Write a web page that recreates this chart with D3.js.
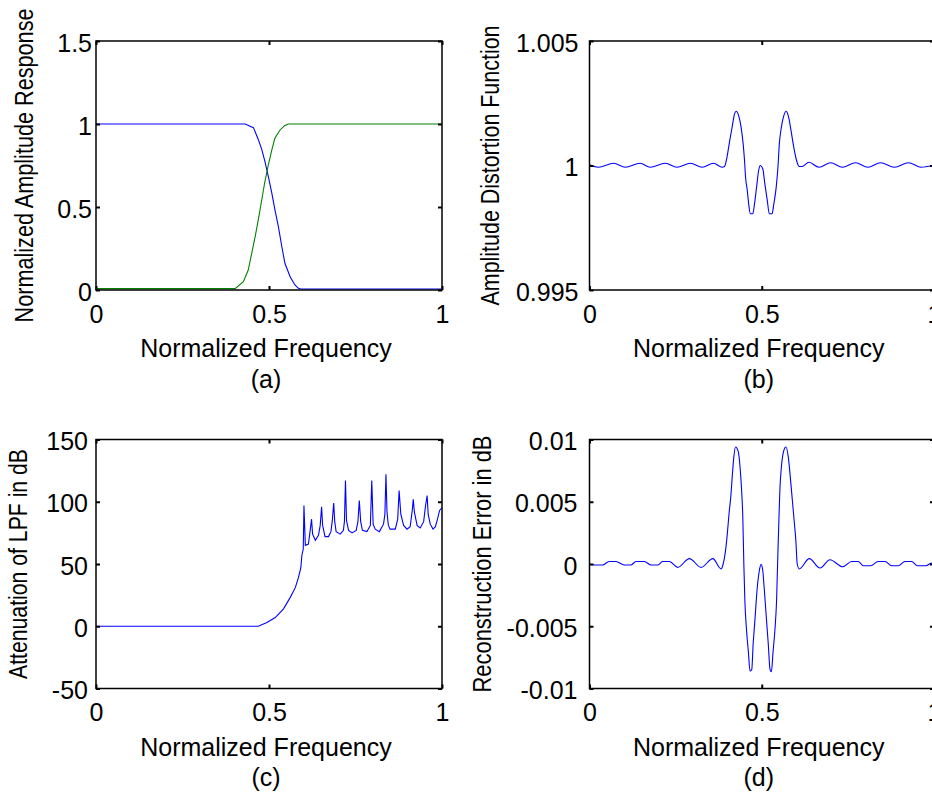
<html>
<head>
<script src="https://d3js.org/d3.v7.min.js"></script>
<style>
body { margin: 0; background: white; }
text { font-family: "Liberation Sans", Arial, sans-serif; fill: black; }
</style>
</head>
<body>
<script>
// x ticks shared by all four panels
const xTicks = [0, 0.5, 1];
const xTickLabels = ["0", "0.5", "1"];

// (a) low-pass (blue) and high-pass (green) amplitude responses
const lpfA = [[0, 1], [0.431, 1], [0.455, 0.978], [0.469, 0.907], [0.479, 0.847], [0.488, 0.776],
    [0.498, 0.685], [0.508, 0.585], [0.517, 0.484], [0.527, 0.383], [0.537, 0.262], [0.546, 0.161],
    [0.561, 0.080], [0.575, 0.030], [0.585, 0.010], [0.592, 0.006], [1, 0.006]];
const hpfA = [[0, 0.008], [0.402, 0.008], [0.426, 0.05], [0.440, 0.12], [0.450, 0.221], [0.460, 0.321],
    [0.469, 0.422], [0.479, 0.542], [0.488, 0.652], [0.498, 0.753], [0.508, 0.843], [0.517, 0.914],
    [0.532, 0.964], [0.545, 0.99], [0.556, 1.0], [1, 1.0]];
const yTicksA = [0, 0.5, 1, 1.5];
const yTickLabelsA = ["0", "0.5", "1", "1.5"];

// (b) amplitude distortion function
const distB = [[0, 1.00003], [0.026, 0.99993], [0.070, 1.00009], [0.104, 0.99993], [0.147, 1.00009],
    [0.176, 0.99993], [0.220, 1.00009], [0.254, 0.99993], [0.293, 1.00009], [0.327, 0.99993],
    [0.360, 1.00009], [0.385, 0.99993], [0.392, 0.99996], [0.399, 1.00033], [0.407, 1.001],
    [0.414, 1.00154], [0.421, 1.00207], [0.426, 1.00218], [0.433, 1.002], [0.440, 1.00154],
    [0.446, 1.00087], [0.450, 1.0002], [0.453, 0.99953], [0.458, 0.999], [0.462, 0.99846],
    [0.467, 0.99806], [0.474, 0.99806], [0.479, 0.99846], [0.485, 0.99913], [0.491, 0.9998],
    [0.496, 1.0], [0.503, 0.99987], [0.509, 0.99926], [0.516, 0.9986], [0.522, 0.99806],
    [0.530, 0.99806], [0.535, 0.99846], [0.542, 0.99913], [0.547, 0.99993], [0.551, 1.00087],
    [0.557, 1.00154], [0.564, 1.002], [0.571, 1.00218], [0.578, 1.00194], [0.585, 1.0014],
    [0.593, 1.00073], [0.601, 1.0002], [0.609, 0.99996], [0.617, 0.99996], [0.637, 1.00013],
    [0.666, 0.99993], [0.700, 1.00011], [0.734, 0.99993], [0.772, 1.00011], [0.808, 0.99993],
    [0.845, 1.00011], [0.885, 0.99993], [0.926, 1.00011], [0.963, 0.99993], [1, 1.00002]];
const yTicksB = [0.995, 1, 1.005];
const yTickLabelsB = ["0.995", "1", "1.005"];

// (c) attenuation of LPF in dB
const attC = [[0, 0], [0.469, 0], [0.494, 3], [0.518, 7], [0.542, 14], [0.561, 23], [0.576, 31],
    [0.585, 39], [0.592, 47], [0.595, 57], [0.599, 62], [0.601, 97], [0.605, 65], [0.614, 66],
    [0.619, 77], [0.623, 86], [0.626, 74], [0.634, 69], [0.643, 73], [0.648, 81], [0.652, 96],
    [0.655, 81], [0.662, 72], [0.672, 72], [0.679, 76], [0.683, 85], [0.687, 99], [0.690, 84],
    [0.694, 76], [0.706, 74], [0.715, 77], [0.718, 84], [0.721, 117], [0.724, 85], [0.730, 77],
    [0.740, 75], [0.752, 77], [0.757, 84], [0.761, 101], [0.765, 84], [0.770, 77], [0.783, 76],
    [0.793, 81], [0.797, 117], [0.801, 82], [0.807, 78], [0.819, 76], [0.831, 82], [0.835, 90],
    [0.838, 122], [0.841, 92], [0.845, 81], [0.850, 78], [0.865, 78], [0.872, 86], [0.876, 109],
    [0.881, 90], [0.889, 81], [0.899, 78], [0.908, 80], [0.914, 93], [0.917, 102], [0.920, 92],
    [0.928, 81], [0.937, 79], [0.947, 84], [0.952, 96], [0.957, 105], [0.960, 90], [0.966, 82],
    [0.974, 78], [0.981, 80], [0.987, 86], [0.993, 93], [1, 95]];
const yTicksC = [-50, 0, 50, 100, 150];
const yTickLabelsC = ["-50", "0", "50", "100", "150"];

// (d) reconstruction error in dB
const errD = [[0, 0], [0.014, -0.00008], [0.038, -0.00008], [0.057, 0.0002], [0.077, 0.0002],
    [0.101, -0.00008], [0.120, -0.00008], [0.135, 0.0002], [0.159, 0.0002], [0.179, -0.00008],
    [0.198, -0.00008], [0.212, 0.0002], [0.232, 0.0002], [0.256, -0.00027], [0.290, 0.00043],
    [0.324, -0.00027], [0.358, 0.00043], [0.382, -0.0004], [0.388, 0], [0.396, 0.00134],
    [0.400, 0.00242], [0.405, 0.00403], [0.410, 0.00537], [0.415, 0.00726], [0.419, 0.0086],
    [0.424, 0.0094], [0.432, 0.009], [0.437, 0.00779], [0.441, 0.00618], [0.445, 0.00376],
    [0.448, 0], [0.451, -0.00296], [0.456, -0.00538], [0.461, -0.00699], [0.466, -0.0086],
    [0.471, -0.00847], [0.475, -0.00645], [0.480, -0.00457], [0.487, -0.00189], [0.493, -0.00054],
    [0.498, -0.00003], [0.503, -0.00054], [0.507, -0.00189], [0.514, -0.00457], [0.519, -0.00645],
    [0.524, -0.00847], [0.528, -0.00866], [0.533, -0.00699], [0.538, -0.00538], [0.543, -0.00296],
    [0.546, 0], [0.550, 0.00376], [0.553, 0.00618], [0.557, 0.00779], [0.563, 0.009],
    [0.570, 0.0094], [0.577, 0.0086], [0.582, 0.00726], [0.588, 0.00537], [0.594, 0.00349],
    [0.599, 0.00188], [0.603, 0], [0.609, -0.0004], [0.638, 0.00043], [0.669, -0.00032],
    [0.698, 0.00034], [0.735, -0.00022], [0.761, 0.0002], [0.780, 0.0002], [0.795, -0.00014],
    [0.816, -0.00014], [0.838, 0.0002], [0.858, 0.0002], [0.877, -0.00014], [0.896, -0.00014],
    [0.916, 0.0002], [0.935, 0.0002], [0.952, -0.00014], [0.977, -0.00014], [0.990, 0.00005],
    [1, 0.0001]];
const yTicksD = [-0.01, -0.005, 0, 0.005, 0.01];
const yTickLabelsD = ["-0.01", "-0.005", "0", "0.005", "0.01"];

let width = 932;
let height = 793;
let fontSize = 25;

let svg = d3.select("body").append("svg")
    .attr("width", width)
    .attr("height", height)
    .attr("viewBox", [0, 0, width, height]);

function drawPanel(p) {
    let g = svg.append("g").attr("transform", `translate(${p.left},${p.top})`);
    let x = d3.scaleLinear().domain([0, 1]).range([0, p.w]);
    let y = d3.scaleLinear().domain([p.yTicks[0], p.yTicks[p.yTicks.length - 1]]).range([p.h, 0]);

    p.series.forEach(function(s) {
        let line = d3.line()
            .x(d => x(d[0]))
            .y(d => y(d[1]))
            .curve(s.curve || d3.curveLinear);
        g.append("path")
            .datum(s.data)
            .attr("d", line)
            .attr("fill", "none")
            .attr("stroke", s.color)
            .attr("stroke-width", 1.1);
    });

    // box
    g.append("rect")
        .attr("width", p.w)
        .attr("height", p.h)
        .attr("fill", "none")
        .attr("stroke", "black")
        .attr("stroke-width", 1.5);

    let bottom = g.append("g")
        .attr("transform", `translate(0,${p.h})`)
        .call(d3.axisBottom(x).tickValues(xTicks).tickFormat((d, i) => xTickLabels[i])
            .tickSizeInner(-4).tickSizeOuter(0).tickPadding(15));
    let left = g.append("g")
        .call(d3.axisLeft(y).tickValues(p.yTicks).tickFormat((d, i) => p.yTickLabels[i])
            .tickSizeInner(-4).tickSizeOuter(0).tickPadding(p.yPad));
    let top = g.append("g")
        .call(d3.axisTop(x).tickValues(xTicks).tickFormat("").tickSizeInner(-4).tickSizeOuter(0));
    let right = g.append("g")
        .attr("transform", `translate(${p.w},0)`)
        .call(d3.axisRight(y).tickValues(p.yTicks).tickFormat("").tickSizeInner(-4).tickSizeOuter(0));

    [bottom, left, top, right].forEach(function(a) {
        a.select(".domain").remove();
        a.attr("font-size", fontSize);
        a.selectAll("line").attr("stroke-width", 2);
    });
    left.selectAll("text").attr("dy", "0.4em");

    g.append("text")
        .attr("x", p.w / 2 - 3)
        .attr("y", p.h + 67)
        .attr("text-anchor", "middle")
        .attr("font-size", fontSize)
        .text("Normalized Frequency");
    g.append("text")
        .attr("x", p.w / 2 - 3)
        .attr("y", p.h + 97.5)
        .attr("text-anchor", "middle")
        .attr("font-size", fontSize)
        .text(p.caption);
    g.append("text")
        .attr("transform", `translate(${-p.yLabelOff},${p.h / 2}) rotate(-90)`)
        .attr("text-anchor", "middle")
        .attr("font-size", fontSize)
        .attr("textLength", p.yLabelLen)
        .attr("lengthAdjust", "spacingAndGlyphs")
        .text(p.yLabel);
}

drawPanel({
    left: 96, top: 41, w: 346, h: 249,
    yTicks: yTicksA, yTickLabels: yTickLabelsA, yPad: 4,
    yLabel: "Normalized Amplitude Response", yLabelOff: 63, yLabelLen: 314,
    caption: "(a)",
    series: [{data: lpfA, color: "#0000ff"}, {data: hpfA, color: "#008000"}]
});
drawPanel({
    left: 589.5, top: 41, w: 344.5, h: 249,
    yTicks: yTicksB, yTickLabels: yTickLabelsB, yPad: 11,
    yLabel: "Amplitude Distortion Function", yLabelOff: 90.5, yLabelLen: 280,
    caption: "(b)",
    series: [{data: distB, color: "#0000ff", curve: d3.curveMonotoneX}]
});
drawPanel({
    left: 96, top: 439.5, w: 346, h: 249,
    yTicks: yTicksC, yTickLabels: yTickLabelsC, yPad: 8,
    yLabel: "Attenuation of LPF in dB", yLabelOff: 69, yLabelLen: 230,
    caption: "(c)",
    series: [{data: attC, color: "#0000ff"}]
});
drawPanel({
    left: 589.5, top: 439.5, w: 344.5, h: 249,
    yTicks: yTicksD, yTickLabels: yTickLabelsD, yPad: 12,
    yLabel: "Reconstruction Error in dB", yLabelOff: 98.5, yLabelLen: 257,
    caption: "(d)",
    series: [{data: errD, color: "#0000ff", curve: d3.curveMonotoneX}]
});
</script>
</body>
</html>
